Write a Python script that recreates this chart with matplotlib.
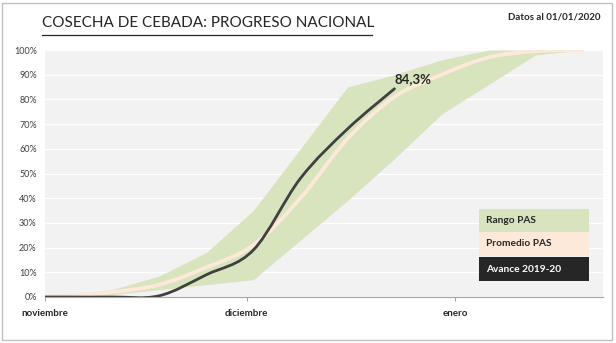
import numpy as np
import pandas as pd
import matplotlib
matplotlib.use("Agg")
import matplotlib.pyplot as plt
from matplotlib.path import Path
from matplotlib.patches import PathPatch, Rectangle

plt.rcParams['font.family'] = ['Lato', 'DejaVu Sans']

# weekly reports (Mondays)
fechas = ['2019-10-28', '2019-11-04', '2019-11-11', '2019-11-18', '2019-11-25',
          '2019-12-02', '2019-12-09', '2019-12-16', '2019-12-23', '2019-12-30',
          '2020-01-06', '2020-01-13', '2020-01-20']
rango_max = [0, 0.5, 3, 8.5, 18, 35, 60, 85, 90, 96, 100, 100, 100]
rango_min = [0, 0, 1, 3, 5, 7, 23, 39, 56, 74, 86, 98, 100]
promedio = [0, 0.5, 2, 5, 12, 21, 40, 64, 81, 90, 97, 99.5, 100]
avance = [0, 0, 0, 0.5, 9, 19, 48, 68, 84.3]

meses = ['noviembre', 'diciembre', 'enero']
meses_fechas = ['2019-11-01', '2019-12-01', '2020-01-01']

origen = pd.Timestamp('2019-11-01')
dias = np.array([(pd.Timestamp(f) - origen).days for f in fechas], dtype=float)
dias_mes = [(pd.Timestamp(f) - origen).days for f in meses_fechas]

VERDE = '#d7e4bd'
CREMA = '#fde9d9'
OSCURO = '#404040'


def smooth_line(ax, x, y, **kw):
    """Draw a line through the points with Excel-style Bezier smoothing."""
    pts = np.column_stack([x, y])
    n = len(pts)
    verts = [pts[0]]
    codes = [Path.MOVETO]
    for i in range(n - 1):
        p0 = pts[max(i - 1, 0)]
        p1 = pts[i]
        p2 = pts[i + 1]
        p3 = pts[min(i + 2, n - 1)]
        c1 = p1 + (p2 - p0) / 6.0
        c2 = p2 - (p3 - p1) / 6.0
        verts += [c1, c2, p2]
        codes += [Path.CURVE4] * 3
    patch = PathPatch(Path(verts, codes), facecolor='none', **kw)
    ax.add_patch(patch)
    return patch


fig = plt.figure(figsize=(6.16, 3.43), dpi=100)
W, H = 616, 343
ax = fig.add_axes([45 / W, 1 - 297 / H, (603 - 45) / W, (297 - 50) / H])
ax.set_facecolor('#f2f2f2')

ax.fill_between(dias, rango_min, rango_max, color=VERDE, lw=0, zorder=2)
smooth_line(ax, dias, promedio, edgecolor=CREMA, lw=2.8, zorder=3,
            capstyle='round')
smooth_line(ax, dias[:len(avance)], avance, edgecolor=OSCURO, lw=2.0, zorder=4,
            capstyle='round')

ax.annotate('84,3%', (dias[len(avance) - 1], avance[-1]), xytext=(0, 3),
            textcoords='offset points', fontsize=9.5, fontweight='bold',
            color='#262626', ha='left', va='bottom', zorder=5)

ax.set_xlim(0, (603 - 45) / 6.72)
ax.set_ylim(0, 100)
ax.set_yticks(np.arange(0, 101, 10))
ax.set_yticklabels([f'{v}%' for v in range(0, 101, 10)], fontsize=6.5,
                   color='#404040')
ax.set_xticks(dias_mes)
ax.set_xticklabels(meses, fontsize=7, fontweight='bold', color='#262626')
ax.tick_params(axis='y', length=0, pad=6)
ax.tick_params(axis='x', length=3, color='#a6a6a6', pad=6)
ax.grid(axis='y', color='white', lw=1, zorder=1)
ax.set_axisbelow(True)
for s in ['top', 'right', 'left']:
    ax.spines[s].set_visible(False)
ax.spines['bottom'].set_color('#a6a6a6')
ax.spines['bottom'].set_zorder(6)

# legend as stacked coloured boxes
cajas = [('Rango PAS', VERDE, '#262626', 209, 232),
         ('Promedio PAS', CREMA, '#262626', 232, 256),
         ('Avance 2019-20', '#262626', 'white', 257, 281)]
for texto, fondo, color, y0, y1 in cajas:
    fig.patches.append(Rectangle((479 / W, 1 - y1 / H), (589 - 479) / W,
                                 (y1 - y0) / H, transform=fig.transFigure,
                                 facecolor=fondo, edgecolor='none', zorder=10))
    fig.text(486 / W, 1 - (y0 + y1) / 2 / H, texto, fontsize=7.3,
             fontweight='bold', color=color, va='center', ha='left',
             zorder=11)

# title, underline and date stamp
fig.text(42 / W, 1 - 23 / H, 'COSECHA DE CEBADA: PROGRESO NACIONAL',
         fontsize=11, color='#262626', va='center', ha='left')
fig.add_artist(plt.Line2D([42 / W, 372 / W], [1 - 35 / H, 1 - 35 / H],
                          transform=fig.transFigure, color='#262626', lw=0.9))
fig.text(600 / W, 1 - 17 / H, 'Datos al 01/01/2020', fontsize=7,
         fontweight='bold', color='#262626', va='center', ha='right')

# outer frame
fig.patches.append(Rectangle((2 / W, 3 / H), 610 / W, 337 / H,
                             transform=fig.transFigure, facecolor='none',
                             edgecolor='#bfbfbf', lw=1))

fig.savefig('out.png', dpi=100)
